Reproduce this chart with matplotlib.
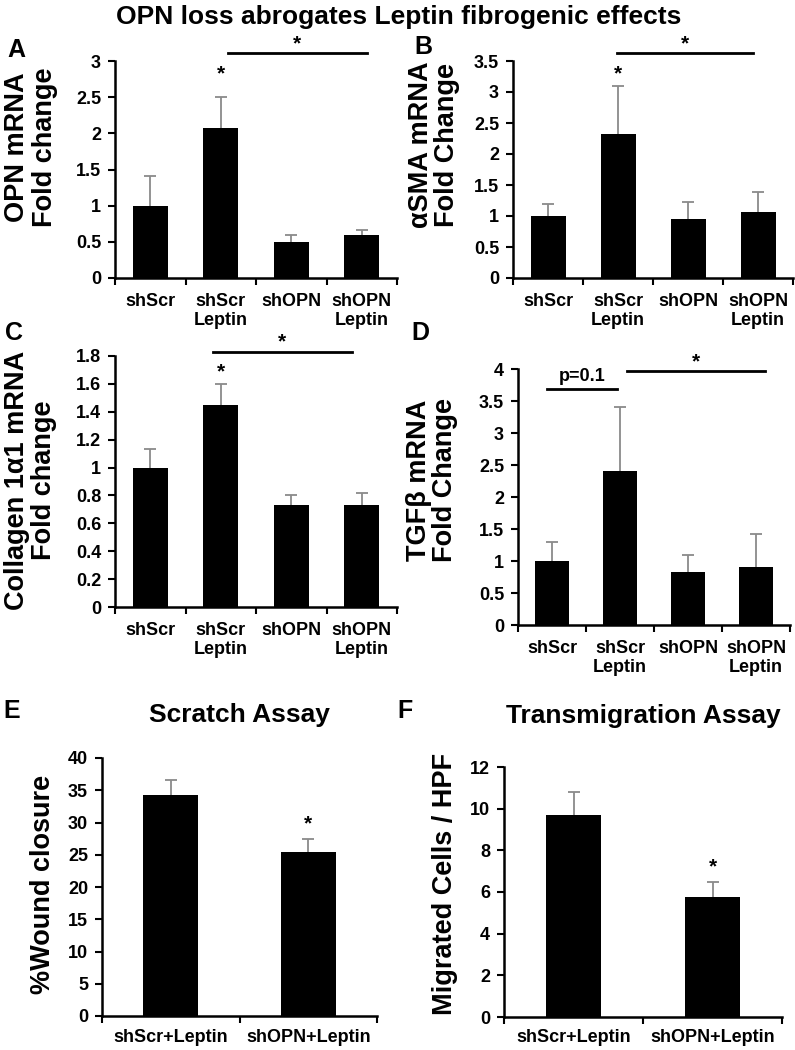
import numpy as np
import matplotlib
import matplotlib.pyplot as plt

matplotlib.rcParams["font.family"] = ["Liberation Sans", "DejaVu Sans"]
matplotlib.rcParams["font.weight"] = "bold"
matplotlib.rcParams["axes.labelweight"] = "bold"
matplotlib.rcParams["axes.titleweight"] = "bold"

W, H = 795, 1050

# data
groups4 = ["shScr", "shScr\nLeptin", "shOPN", "shOPN\nLeptin"]
groups2 = ["shScr+Leptin", "shOPN+Leptin"]

opn_mean = [1.0, 2.08, 0.5, 0.6]
opn_err = [0.41, 0.42, 0.10, 0.07]

asma_mean = [1.0, 2.33, 0.95, 1.06]
asma_err = [0.20, 0.77, 0.28, 0.32]

col_mean = [1.0, 1.45, 0.73, 0.73]
col_err = [0.13, 0.15, 0.07, 0.09]

tgf_mean = [1.0, 2.4, 0.83, 0.91]
tgf_err = [0.30, 1.0, 0.27, 0.51]

wound_mean = [34.2, 25.5]
wound_err = [2.4, 2.0]

migr_mean = [9.7, 5.75]
migr_err = [1.1, 0.72]

fig = plt.figure(figsize=(W / 100, H / 100), dpi=100)


def px_axes(left, right, top, bottom):
    return fig.add_axes([left / W, 1 - bottom / H, (right - left) / W, (bottom - top) / H])


def bar_panel(rect, labels, means, errs, ylim, yticks, ylabel, width, lab_xy):
    ax = px_axes(*rect)
    n = len(means)
    x = np.arange(n)
    ax.bar(x, means, width, color="black", zorder=2)
    # error bars sit behind the bars, so only the upper half shows
    ax.errorbar(x, means, yerr=errs, fmt="none", ecolor="#8a8a8a",
                elinewidth=1.3, capsize=4, capthick=1.3, zorder=1)
    ax.set_xlim(-0.5, n - 0.5)
    ax.set_ylim(*ylim)
    ax.set_yticks(yticks)
    ax.set_yticklabels([f"{v:g}" for v in yticks], fontsize=13)
    ax.set_xticks(np.arange(-0.5, n))
    ax.set_xticklabels([])
    ax.set_xticks(x, minor=True)
    ax.set_xticklabels(labels, minor=True, fontsize=13, linespacing=1.1)
    ax.tick_params(axis="x", which="minor", length=0, pad=11)
    ax.tick_params(axis="x", which="major", direction="out", length=5, width=1.5)
    ax.tick_params(axis="y", direction="out", length=5, width=1.5, pad=5)
    for s in ["top", "right"]:
        ax.spines[s].set_visible(False)
    for s in ["left", "bottom"]:
        ax.spines[s].set_linewidth(1.8)
    ax.set_ylabel(ylabel, fontsize=19.5, va="center", linespacing=1.05)
    ax.yaxis.set_label_coords(lab_xy[0] / W, 1 - lab_xy[1] / H, transform=fig.transFigure)
    return ax


def sig(ax, x0, x1, y, text="*", size=15, gap=0):
    ax.plot([x0, x1], [y, y], color="black", lw=2, clip_on=False)
    ax.annotate(text, ((x0 + x1) / 2, y), xytext=(0, gap), textcoords="offset points",
                ha="center", va="bottom", fontsize=size, annotation_clip=False)


def star(ax, i, means, errs, gap=4):
    ax.annotate("*", (i, means[i] + errs[i]), xytext=(0, gap), textcoords="offset points",
                ha="center", va="bottom", fontsize=15, annotation_clip=False)


fig.text(399 / W, 1 - 17 / H, "OPN loss abrogates Leptin fibrogenic effects",
         ha="center", va="center", fontsize=19)

# A
ax = bar_panel((115, 397, 61, 278), groups4, opn_mean, opn_err, (0, 3),
               [0, 0.5, 1, 1.5, 2, 2.5, 3], "OPN mRNA\nFold change", 0.5, (31, 147))
sig(ax, 1.10, 3.07, 3.11)
star(ax, 1, opn_mean, opn_err, 10)

# B
ax = bar_panel((513, 793, 61, 278), groups4, asma_mean, asma_err, (0, 3.5),
               [0, 0.5, 1, 1.5, 2, 2.5, 3, 3.5], "\u03b1SMA mRNA\nFold Change", 0.5, (434, 145))
sig(ax, 0.99, 2.93, 3.63)
star(ax, 1, asma_mean, asma_err, 2)

# C
ax = bar_panel((115, 397, 356, 607), groups4, col_mean, col_err, (0, 1.8),
               [0, 0.2, 0.4, 0.6, 0.8, 1, 1.2, 1.4, 1.6, 1.8],
               "Collagen 1\u03b11 mRNA\nFold change", 0.5, (31, 480))
sig(ax, 0.89, 2.86, 1.83)
star(ax, 1, col_mean, col_err, 2)

# D
ax = bar_panel((518, 790, 369, 625), groups4, tgf_mean, tgf_err, (0, 4),
               [0, 0.5, 1, 1.5, 2, 2.5, 3, 3.5, 4], "TGF\u03b2 mRNA\nFold Change", 0.5, (432, 480))
sig(ax, 1.10, 3.13, 3.97)
sig(ax, -0.07, 0.96, 3.69, "p=0.1", size=13, gap=3)

# E
ax = bar_panel((102, 377, 758, 1016), groups2, wound_mean, wound_err, (0, 40),
               [0, 5, 10, 15, 20, 25, 30, 35, 40], "%Wound closure", 0.4, (43, 884))
ax.tick_params(axis="x", which="minor", pad=9)
star(ax, 1, wound_mean, wound_err, 4)
ax.set_title("Scratch Assay", fontsize=19, pad=0, y=1 + (758 - 715) / 258, va="center")

# F
ax = bar_panel((504, 782, 767, 1017), groups2, migr_mean, migr_err, (0, 12),
               [0, 2, 4, 6, 8, 10, 12], "Migrated Cells / HPF", 0.4, (445, 884))
ax.tick_params(axis="x", which="minor", pad=9)
star(ax, 1, migr_mean, migr_err, 4)
ax.set_title("Transmigration Assay", fontsize=19, pad=0, y=1 + (767 - 716) / 250, va="center")

# panel letters
for letter, (lx, ly) in zip("ABCDEF", [(16, 50), (423, 47), (14, 333), (420, 333), (12, 711), (405, 711)]):
    fig.text(lx / W, 1 - ly / H, letter, ha="center", va="center", fontsize=18)

fig.savefig("out.png", dpi=100)
